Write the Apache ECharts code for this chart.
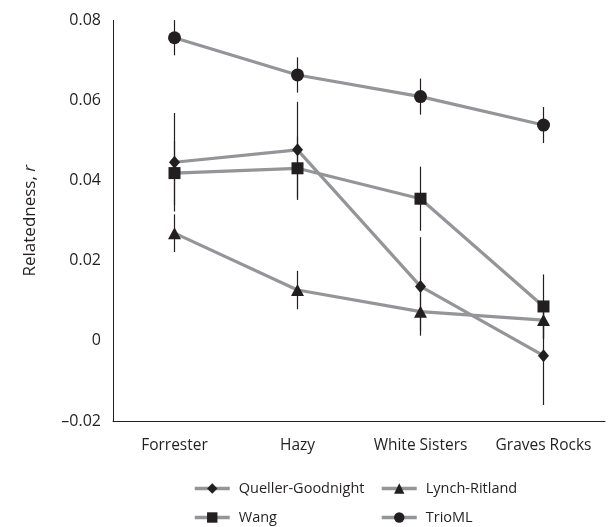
<!DOCTYPE html>
<html>
<head>
<meta charset="utf-8">
<script src="https://cdn.jsdelivr.net/npm/echarts@6/dist/echarts.min.js"></script>
<style>html,body{margin:0;padding:0;background:#fff;}#c{width:609px;height:527px;}</style>
</head>
<body>
<div id="c"></div>
<script>
const categories = ['Forrester', 'Hazy', 'White Sisters', 'Graves Rocks'];
const quellerGoodnight = [0.0446, 0.0477, 0.0136, -0.0037];
const quellerGoodnightErr = [0.0123, 0.0120, 0.0123, 0.0123];
const lynchRitland = [0.0269, 0.0127, 0.0073, 0.0052];
const lynchRitlandErr = [0.0047, 0.0048, 0.0048, 0.0048];
const wang = [0.0419, 0.0431, 0.0355, 0.0086];
const wangErr = [0.0080, 0.0079, 0.0080, 0.0080];
const trioML = [0.0757, 0.0664, 0.0610, 0.0539];
const trioMLErr = [0.0044, 0.0044, 0.0045, 0.0045];
const yTickLabels = ['\u20130.02', '0', '0.02', '0.04', '0.06', '0.08'];

const FONT = 'Open Sans';
const LINE = '#939598';
const MARK = '#231f20';

const seriesDefs = [
  {name: 'Queller-Goodnight', data: quellerGoodnight, err: quellerGoodnightErr, symbol: 'diamond', size: [11, 13]},
  {name: 'Lynch-Ritland', data: lynchRitland, err: lynchRitlandErr, symbol: 'triangle', size: [13, 12]},
  {name: 'Wang', data: wang, err: wangErr, symbol: 'rect', size: 12},
  {name: 'TrioML', data: trioML, err: trioMLErr, symbol: 'circle', size: 13}
];

const series = [];
seriesDefs.forEach(function (d) {
  series.push({
    name: d.name, type: 'line', data: d.data,
    symbol: d.symbol, symbolSize: d.size, showAllSymbol: true,
    lineStyle: {color: LINE, width: 3.2},
    itemStyle: {color: MARK, borderWidth: 0},
    z: 3, animation: false
  });
});
seriesDefs.forEach(function (d) {
  series.push({
    name: d.name + ' err', type: 'custom',
    data: d.data.map(function (v, i) { return [i, v - d.err[i], v + d.err[i]]; }),
    renderItem: function (params, api) {
      const lo = api.coord([api.value(0), api.value(1)]);
      const hi = api.coord([api.value(0), api.value(2)]);
      return {type: 'line', shape: {x1: lo[0], y1: lo[1], x2: hi[0], y2: hi[1]},
        style: {stroke: MARK, lineWidth: 1.2}};
    },
    z: 4, animation: false, silent: true
  });
});

function legendAt(name, left, top) {
  return {
    data: [name], left: left, top: top, orient: 'horizontal', padding: 0,
    itemWidth: 35, itemHeight: 13, itemGap: 0,
    lineStyle: {width: 3.5, color: LINE},
    textStyle: {fontFamily: FONT, fontSize: 14.5, color: MARK, padding: [0, 0, 0, 4]},
    selectedMode: false
  };
}

const chart = echarts.init(document.getElementById('c'), null, {renderer: 'canvas'});
chart.setOption({
  animation: false,
  backgroundColor: '#fff',
  grid: {left: 113, right: 4, top: 20.5, bottom: 106, containLabel: false},
  legend: [
    legendAt('Queller-Goodnight', 193, 481),
    legendAt('Lynch-Ritland', 380, 481),
    legendAt('Wang', 193, 510),
    legendAt('TrioML', 380, 510)
  ],
  xAxis: {
    type: 'category', data: categories, boundaryGap: true,
    axisLine: {onZero: false, lineStyle: {color: MARK, width: 1}},
    axisTick: {show: false},
    axisLabel: {fontFamily: FONT, fontSize: 15.5, color: MARK, margin: 17, interval: 0}
  },
  yAxis: {
    type: 'value', min: -0.02, max: 0.08, interval: 0.02,
    splitLine: {show: false},
    axisLine: {show: true, lineStyle: {color: MARK, width: 1}},
    axisTick: {show: false},
    axisLabel: {fontFamily: FONT, fontSize: 16, color: MARK, margin: 12,
      formatter: function (v) { return yTickLabels[Math.round(v / 0.02) + 1]; }},
    name: '{n|Relatedness, }{i|r}', nameLocation: 'middle', nameGap: 74, nameRotate: 90,
    nameTextStyle: {rich: {
      n: {fontFamily: FONT, fontSize: 17, color: MARK},
      i: {fontFamily: FONT, fontSize: 17, color: MARK, fontStyle: 'italic'}
    }}
  },
  series: series
});
</script>
</body>
</html>
